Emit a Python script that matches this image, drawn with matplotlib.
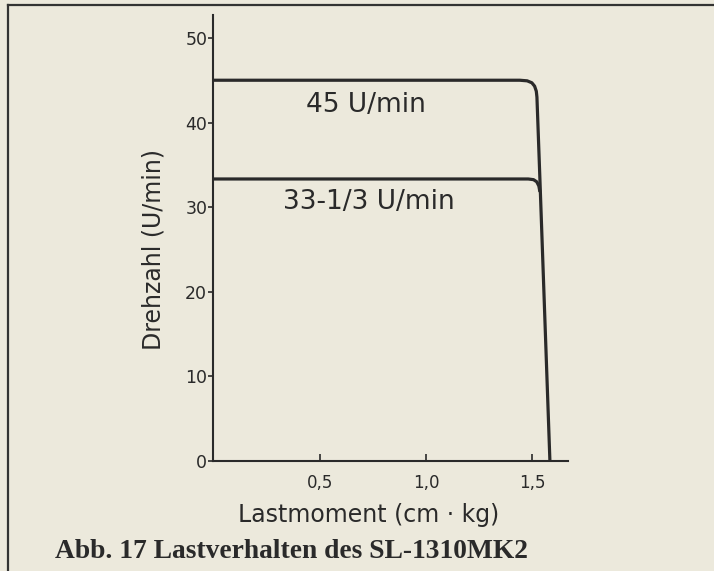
import matplotlib
matplotlib.use("Agg")
import matplotlib.pyplot as plt
from matplotlib.lines import Line2D

# ---- data ----
speed45_x = [0.0, 1.44, 1.475, 1.497, 1.51, 1.518, 1.521, 1.535, 1.582]
speed45_y = [45.0, 45.0, 44.93, 44.7, 44.3, 43.7, 43.0, 33.3, 0.0]
speed33_x = [0.0, 1.48, 1.505, 1.52, 1.53, 1.535]
speed33_y = [33.33, 33.33, 33.25, 33.0, 32.5, 31.8]

x_ticks = [0.5, 1.0, 1.5]
x_ticklabels = ["0,5", "1,0", "1,5"]
y_ticks = [0, 10, 20, 30, 40, 50]
y_ticklabels = ["0", "10", "20", "30", "40", "50"]

label_45 = "45 U/min"
label_33 = "33-1/3 U/min"
x_label = "Lastmoment (cm · kg)"
y_label = "Drehzahl (U/min)"
caption = "Abb. 17 Lastverhalten des SL-1310MK2"

# ---- style ----
bg = "#ece9dc"
ink = "#2a2a2a"
plt.rcParams["font.family"] = ["DejaVu Sans"]

fig = plt.figure(figsize=(7.14, 5.71), dpi=100, facecolor=bg)
ax = fig.add_axes([0.299, 0.1926, 0.4965, 0.781], facecolor=bg)

ax.plot(speed45_x, speed45_y, color=ink, lw=2.3, solid_joinstyle="round", solid_capstyle="butt")
ax.plot(speed33_x, speed33_y, color=ink, lw=2.3, solid_joinstyle="round", solid_capstyle="butt")

ax.set_xlim(0, 1.667)
ax.set_ylim(0, 52.7)

for s in ["top", "right"]:
    ax.spines[s].set_visible(False)
for s in ["left", "bottom"]:
    ax.spines[s].set_color(ink)
    ax.spines[s].set_linewidth(1.5)

ax.set_xticks(x_ticks)
ax.set_xticklabels(x_ticklabels)
ax.set_yticks(y_ticks)
ax.set_yticklabels(y_ticklabels)
ax.tick_params(axis="x", direction="in", length=5, width=1.2, color=ink,
               labelsize=12, labelcolor=ink, pad=9)
ax.tick_params(axis="y", direction="out", length=3.5, width=1.2, color=ink,
               labelsize=12.5, labelcolor=ink, pad=1)

ax.text(0.716, 42.1, label_45, ha="center", va="center", fontsize=19, color=ink)
ax.text(0.73, 30.6, label_33, ha="center", va="center", fontsize=19, color=ink)

fig.text(369 / 714, 1 - 522 / 571, x_label, ha="center", va="baseline",
         fontsize=17, color=ink)
fig.text(153 / 714, 1 - 249 / 571, y_label, ha="center", va="center",
         rotation=90, fontsize=17, color=ink)
fig.text(55 / 714, 1 - 558 / 571, caption, ha="left", va="baseline",
         fontsize=19.8, fontweight="bold", family="Liberation Serif", color=ink)

# frame of the scanned page
fig.add_artist(Line2D([7.5 / 714, 7.5 / 714], [0, 1 - 5 / 571],
                      transform=fig.transFigure, color="#333333", lw=1.6))
fig.add_artist(Line2D([7.5 / 714, 1], [1 - 5 / 571, 1 - 5 / 571],
                      transform=fig.transFigure, color="#333333", lw=1.6))

fig.savefig("out.png", dpi=100, facecolor=bg)
